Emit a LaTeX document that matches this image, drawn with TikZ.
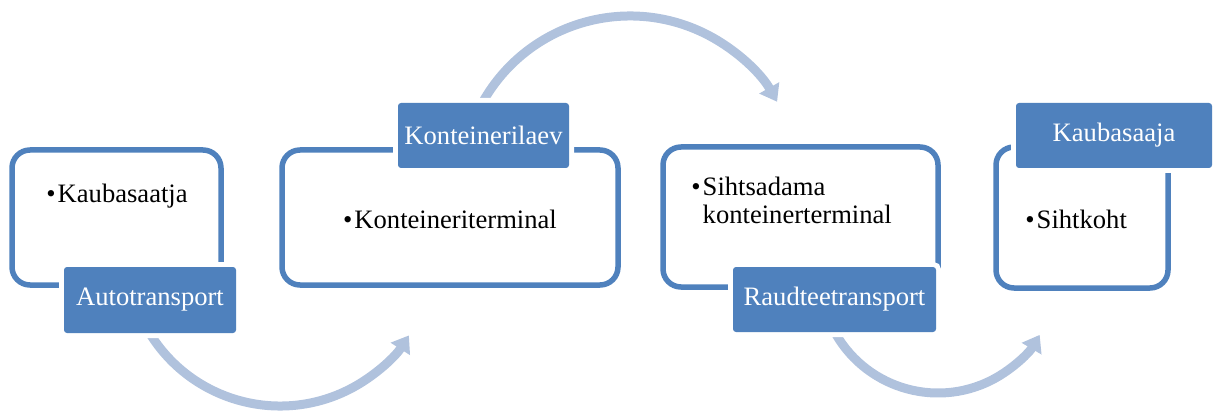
\documentclass[tikz,border=0pt]{standalone}
\usepackage{fontspec}
\setmainfont{Liberation Serif}
\usetikzlibrary{arrows.meta,calc}
\definecolor{accent}{HTML}{4F81BD}
\definecolor{arcblue}{HTML}{B0C2DD}
\newcommand{\blt}{\textbullet\kern1pt}
\begin{document}
\begin{tikzpicture}[x=0.5pt,y=-0.5pt,
  frame/.style={draw=accent, line width=2.75pt, rounded corners=9pt, inner sep=0pt},
  labelbox/.style={fill=accent, rounded corners=1.5pt, text=white, inner sep=0pt,
    font=\fontsize{13.3}{15}\selectfont, preaction={draw=white, line width=5pt}},
  bodytext/.style={font=\fontsize{13.3}{13.8}\selectfont, inner sep=0pt, align=left},
  flow/.style={draw=arcblue, line width=4.5pt, -{Triangle[length=8pt,width=11pt]}}]
\useasboundingbox (0,0) rectangle (1213,411);

% flow arcs (drawn first, cut by the label boxes)
\coordinate (s1) at ($(280,253)+(150:153)$);
\coordinate (s2) at ($(630,185)+(208:169)$);
\coordinate (s3) at ($(938,275)+(150:118)$);
\draw[flow] (s1) arc[start angle=150, end angle=32.6, radius=153];
\draw[flow] (s2) arc[start angle=208, end angle=330.5, radius=169];
\draw[flow] (s3) arc[start angle=150, end angle=30.5, radius=118];

% frames
\node[frame, minimum width=104.5pt, minimum height=67.5pt] (f1) at (116.5,217.5) {};
\node[frame, minimum width=168pt, minimum height=67.5pt] (f2) at (450,217.5) {};
\node[frame, minimum width=137.5pt, minimum height=70pt] (f3) at (800.5,217) {};
\node[frame, minimum width=86pt, minimum height=70.5pt] (f4) at (1082,217.5) {};

% labels
\node[labelbox, minimum width=86pt, minimum height=33pt] (l1) at (150,300) {Autotransport};
\node[labelbox, minimum width=85.5pt, minimum height=32.5pt] (l2) at (483.5,135.5) {Konteinerilaev};
\node[labelbox, minimum width=101.5pt, minimum height=32.5pt] (l3) at (834.5,299.5) {Raudteetransport};
\node[labelbox, minimum width=98pt, minimum height=32.5pt] (l4) at (1114,135.5) {Kaubasaaja};

% body texts
\node[bodytext, anchor=base west] (t1) at (46,202) {\blt Kaubasaatja};
\node[bodytext, anchor=base] (t2) at (450,228) {\blt Konteineriterminal};
\node[bodytext, anchor=north west] (t3) at (691,177) {\blt Sihtsadama\\\hphantom{\blt}konteinerterminal};
\node[bodytext, anchor=base west] (t4) at (1025,228) {\blt Sihtkoht};
\end{tikzpicture}
\end{document}
